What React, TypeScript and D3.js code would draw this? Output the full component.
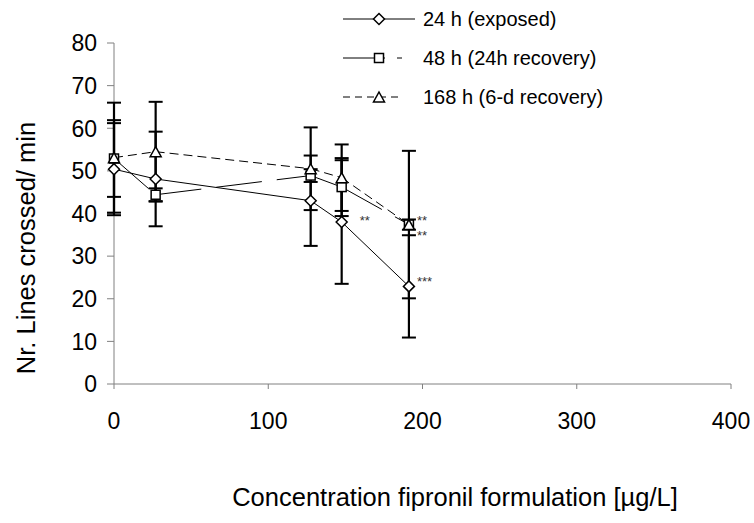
import React from "react";
import * as d3 from "d3";

const concentrations = [0, 27, 127.5, 147.6, 191.2];
const seriesNames = ["24 h (exposed)", "48 h (24h recovery)", "168 h (6-d recovery)"];
const exposedMean = [50.4, 48.1, 43.0, 38.0, 22.9];
const exposedSD = [10.8, 11.1, 10.6, 14.5, 12.0];
const recovery24Mean = [52.9, 44.4, 48.9, 46.2, 37.4];
const recovery24SD = [9.0, 1.5, 1.5, 6.8, 1.2];
const recovery6dMean = [53.1, 54.5, 50.5, 48.4, 37.4];
const recovery6dSD = [12.9, 11.7, 9.7, 7.8, 17.3];
const yTicks = [0, 10, 20, 30, 40, 50, 60, 70, 80];
const xTicks = [0, 100, 200, 300, 400];
// significance labels: [series index, point index, label]
const significance: [number, number, string][] = [
  [0, 3, "**"],
  [2, 4, "**"],
  [1, 4, "**"],
  [0, 4, "***"],
];

const FONT = "'Liberation Sans', Arial, sans-serif";

type Shape = "diamond" | "square" | "triangle";

function Marker({ shape, cx, cy }: { shape: Shape; cx: number; cy: number }) {
  const common = { fill: "#fff", stroke: "#000", strokeWidth: 1.5 };
  if (shape === "diamond") {
    const r = 5.5;
    return <path d={`M${cx},${cy - r}L${cx + r},${cy}L${cx},${cy + r}L${cx - r},${cy}Z`} {...common} />;
  }
  if (shape === "square") {
    const h = 4.5;
    return <rect x={cx - h} y={cy - h} width={2 * h} height={2 * h} {...common} />;
  }
  const w = 5.5;
  const hh = 5;
  return <path d={`M${cx},${cy - hh}L${cx + w},${cy + hh}L${cx - w},${cy + hh}Z`} {...common} />;
}

export default function App() {
  const x = d3.scaleLinear().domain([0, 400]).range([114, 731]);
  const y = d3.scaleLinear().domain([0, 80]).range([384, 43]);

  const series = [
    { name: seriesNames[0], mean: exposedMean, sd: exposedSD, shape: "diamond" as Shape, dash: "" },
    { name: seriesNames[1], mean: recovery24Mean, sd: recovery24SD, shape: "square" as Shape, dash: "46 15" },
    { name: seriesNames[2], mean: recovery6dMean, sd: recovery6dSD, shape: "triangle" as Shape, dash: "9 5" },
  ];

  const line = d3
    .line<number>()
    .x((_, i) => x(concentrations[i]))
    .y((d) => y(d));

  const capW = 7;

  return (
    <svg width={754} height={523} style={{ position: "absolute", left: 0, top: 0, background: "#fff" }}>
      <rect width={754} height={523} fill="#fff" />
      {/* axes */}
      <line x1={x(0)} x2={x(0)} y1={y(0)} y2={y(80)} stroke="#808080" strokeWidth={1} />
      <line x1={x(0)} x2={x(400)} y1={y(0)} y2={y(0)} stroke="#808080" strokeWidth={1} />
      {yTicks.map((t) => (
        <g key={"yt" + t}>
          <line x1={x(0) - 7} x2={x(0)} y1={y(t)} y2={y(t)} stroke="#808080" strokeWidth={1} />
          <text x={97} y={y(t)} dy="0.36em" textAnchor="end" fontFamily={FONT} fontSize={23} fill="#000">
            {t}
          </text>
        </g>
      ))}
      {xTicks.map((t) => (
        <g key={"xt" + t}>
          <line x1={x(t)} x2={x(t)} y1={y(0)} y2={y(0) + 5} stroke="#808080" strokeWidth={1} />
          <text x={x(t)} y={429} textAnchor="middle" fontFamily={FONT} fontSize={23} fill="#000">
            {t}
          </text>
        </g>
      ))}
      <text x={455} y={506} textAnchor="middle" fontFamily={FONT} fontSize={25.5} fill="#000">
        Concentration fipronil formulation [µg/L]
      </text>
      <text
        transform={`translate(35,248) rotate(-90)`}
        textAnchor="middle"
        fontFamily={FONT}
        fontSize={25.5}
        fill="#000"
      >
        Nr. Lines crossed/ min
      </text>

      {/* error bars */}
      {series.map((s, si) =>
        s.mean.map((m, i) => {
          const cx = x(concentrations[i]);
          const top = y(m + s.sd[i]);
          const bot = y(m - s.sd[i]);
          return (
            <g key={`eb${si}-${i}`} stroke="#000">
              <line x1={cx} x2={cx} y1={top} y2={bot} strokeWidth={2.2} />
              <line x1={cx - capW} x2={cx + capW} y1={top} y2={top} strokeWidth={2} />
              <line x1={cx - capW} x2={cx + capW} y1={bot} y2={bot} strokeWidth={2} />
            </g>
          );
        })
      )}

      {/* series lines */}
      {series.map((s, si) =>
        s.dash === "" ? (
          <path key={"ln" + si} d={line(s.mean) || ""} fill="none" stroke="#000" strokeWidth={1} />
        ) : (
          <g key={"ln" + si}>
            {s.mean.slice(1).map((m, i) => (
              <line
                key={i}
                x1={x(concentrations[i])}
                y1={y(s.mean[i])}
                x2={x(concentrations[i + 1])}
                y2={y(m)}
                stroke="#000"
                strokeWidth={1}
                strokeDasharray={s.dash}
              />
            ))}
          </g>
        )
      )}

      {/* markers */}
      {series.map((s, si) =>
        s.mean.map((m, i) => (
          <Marker key={`mk${si}-${i}`} shape={s.shape} cx={x(concentrations[i])} cy={y(m)} />
        ))
      )}

      {/* significance stars */}
      {significance.map(([si, pi, label], k) => {
        const s = series[si];
        const cx = x(concentrations[pi]);
        const cy = y(s.mean[pi]);
        let ty = cy;
        let tx = cx + 8;
        if (k === 0) {
          tx = cx + 18;
          ty = cy - 4;
        } else if (k === 1) {
          ty = cy - 7;
        } else if (k === 2) {
          ty = cy + 8;
        } else {
          ty = cy - 7;
        }
        return (
          <text key={"st" + k} x={tx} y={ty + 7} fontFamily={FONT} fontSize={13} fill="#333">
            {label}
          </text>
        );
      })}

      {/* legend */}
      {series.map((s, si) => {
        const ly = [19, 58, 97][si];
        const x1 = 343;
        const x2 = si === 0 ? 415 : 402;
        return (
          <g key={"lg" + si}>
            <line x1={x1} x2={x2} y1={ly} y2={ly} stroke="#000" strokeWidth={1} strokeDasharray={si === 1 ? "42 12" : si === 2 ? "7 5" : undefined} />
            <Marker shape={s.shape} cx={379} cy={ly} />
            <text x={423} y={ly} dy="0.36em" fontFamily={FONT} fontSize={20} fill="#000">
              {s.name}
            </text>
          </g>
        );
      })}
    </svg>
  );
}
